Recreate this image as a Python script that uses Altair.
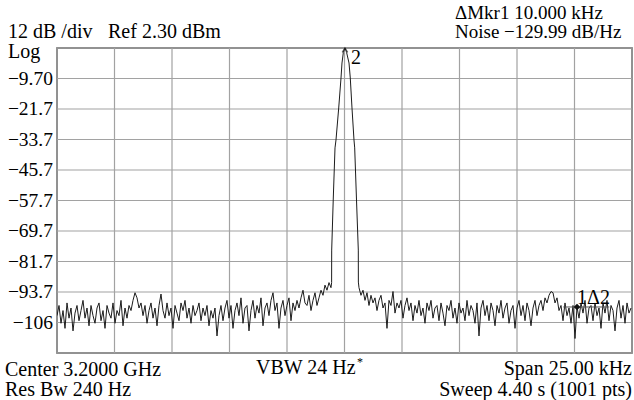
import altair as alt
import numpy as np
import pandas as pd

# ---- data ----
# noise floor left of the carrier (sweep points from -12.5 kHz to -0.59 kHz)
left_noise = [
    -103, -99, -106, -101, -108, -98, -104, -100, -109, -102,
    -99, -105, -101, -97, -104, -100, -107, -99, -103, -106,
    -100, -98, -105, -101, -108, -99, -102, -104, -98, -106,
    -101, -103, -97, -107, -100, -104, -99,
    -101, -97, -94, -96, -100, -98,
    -103, -99, -106, -101, -98, -104, -100,
    -107, -99, -94.5, -101, -104, -98, -103, -100, -108, -99,
    -102, -105, -98, -101, -97, -104, -100, -106, -99, -103,
    -101, -98, -105, -100, -103, -99, -107, -101, -104, -100,
    -111, -103, -99, -105, -100, -97, -104, -99, -108, -101,
    -98, -103, -96, -106, -100, -99, -109, -101, -97, -104,
    -99, -102, -96, -107, -100, -98, -103, -97,
    -94,
    -101, -98, -108, -100, -97, -103, -99, -96, -105, -98, -101, -97, -100,
    -96, -93, -98,
    -99, -95, -101, -97, -94, -99, -96,
    -93, -95, -91, -93, -90, -92,
]
left_start, left_end = -12.5, -0.587

# carrier response
peak_f = [-0.56, -0.557, -0.49, -0.413, -0.37, -0.252, -0.152, -0.109, -0.05, 0.02,
          0.09, 0.196, 0.252, 0.326, 0.413, 0.443, 0.522, 0.6, 0.603]
peak_db = [-90, -77.2, -57.5, -37.0, -33.9, -21.3, -9.5, -3.6, 0.6, 2.3,
           0.6, -3.6, -9.5, -21.3, -33.9, -37.0, -57.5, -77.2, -89.8]

# noise floor right of the carrier (sweep points from 0.63 kHz to 12.46 kHz)
right_noise = [
    -92, -95, -93, -97, -94, -99, -95, -98, -96, -101,
    -97, -95, -100, -98, -108, -97, -99, -93.5, -102, -98,
    -100, -97, -104, -99, -96, -101, -98, -105, -99, -102,
    -97, -103, -100, -106, -98, -101, -97, -104, -100, -99,
    -105, -98, -102, -107, -99, -101, -97, -104, -100, -106,
    -98, -102, -100, -105, -97, -103, -99, -101, -106, -98,
    -111, -100, -97, -103, -99, -105, -98, -101, -107, -99,
    -102, -97, -104, -100, -98, -106, -101, -99, -108, -100,
    -97, -103, -99, -105, -98, -101, -107, -100, -97, -103,
    -99, -97, -101, -96, -98,
    -95, -93.5, -94, -98, -96,
    -101, -99, -105, -98, -103, -100, -106, -99, -112, -99.6,
    -104, -98, -102, -97, -106, -100, -99, -105, -98, -103,
    -100, -108, -98, -102, -97, -105, -99, -101, -109, -100,
    -97, -104, -99, -106, -98, -102, -100,
]
right_start, right_end = 0.63, 12.457

marker2 = {"f": 0.02, "db": 2.3, "label": "2"}
marker1 = {"f": 10.11, "db": -99.6, "label": "1\u03942"}

ref_level = 2.3
db_per_div = 12.0
n_div = 10
span_khz = 25.0

y_labels = ["\u22129.70", "\u221221.7", "\u221233.7", "\u221245.7",
            "\u221257.7", "\u221269.7", "\u221281.7", "\u221293.7", "\u2212106"]

annot_left = [
    ("12 dB /div", -49, -10),
    ("Ref 2.30 dBm", 51, -10),
    ("Log", -49, 10),
    ("Center 3.2000 GHz", -52, 328),
    ("Res Bw 240 Hz", -52, 348),
    ("VBW 24 Hz", 199, 326),
]
annot_top_right = [
    ("\u0394Mkr1 10.000 kHz", 398, -29),
    ("Noise \u2212129.99 dB/Hz", 398, -10),
]
annot_right = [
    ("Span 25.00 kHz", 575, 327),
    ("Sweep 4.40 s (1001 pts)", 575, 348),
]

# ---- tables ----
f_all = list(np.linspace(left_start, left_end, len(left_noise))) + peak_f + \
    list(np.linspace(right_start, right_end, len(right_noise)))
db_all = left_noise + peak_db + right_noise
trace = pd.DataFrame({"f": f_all, "db": db_all, "i": range(len(f_all))})

y_bottom = ref_level - db_per_div * n_div
y_grid = [ref_level - db_per_div * k for k in range(n_div + 1)]
ylab = pd.DataFrame({"v": y_grid[1:1 + len(y_labels)], "t": y_labels})
x_ticks = [-span_khz / 2 + span_khz / n_div * k for k in range(n_div + 1)]

FONT = "Liberation Serif"

xs = alt.Scale(domain=[-span_khz / 2, span_khz / 2], nice=False, zero=False)
ys = alt.Scale(domain=[y_bottom, ref_level], nice=False, zero=False)

grid_y = alt.Chart(pd.DataFrame({"g": y_grid})).mark_rule(color="#a2a2a2", strokeWidth=1.2).encode(
    y=alt.Y("g:Q", scale=ys, axis=None))
grid_x = alt.Chart(pd.DataFrame({"g": x_ticks})).mark_rule(color="#a2a2a2", strokeWidth=1.2).encode(
    x=alt.X("g:Q", scale=xs, axis=None))
y_text = alt.Chart(ylab).mark_text(font=FONT, fontSize=19.5, align="right", baseline="middle",
                                   color="black").encode(
    y=alt.Y("v:Q", scale=ys, axis=None), x=alt.value(-4), text="t:N")

line = alt.Chart(trace).mark_line(color="#1c1c1c", strokeWidth=1, clip=True).encode(
    x=alt.X("f:Q", scale=xs, axis=None),
    y=alt.Y("db:Q", scale=ys, axis=None),
    order="i:Q",
)

mk2 = pd.DataFrame([marker2])
mk1 = pd.DataFrame([marker1])

caret = alt.Chart(mk2).mark_point(
    shape="M-1,1.6L0,0L1,1.6", size=30, filled=False, color="#1c1c1c", strokeWidth=1.2
).encode(x=alt.X("f:Q", scale=xs, axis=None), y=alt.Y("db:Q", scale=ys, axis=None))
caret_txt = alt.Chart(mk2).mark_text(
    font=FONT, fontSize=20, align="left", baseline="alphabetic", dx=6, dy=16, color="black"
).encode(x=alt.X("f:Q", scale=xs, axis=None), y=alt.Y("db:Q", scale=ys, axis=None), text="label:N")

dot = alt.Chart(mk1).mark_point(shape="diamond", size=45, filled=True, color="#111", opacity=1
                                ).encode(x=alt.X("f:Q", scale=xs, axis=None),
                                         y=alt.Y("db:Q", scale=ys, axis=None))
dot_rule = alt.Chart(mk1).transform_calculate(a="datum.f - 0.6", b="datum.f + 1.4").mark_rule(
    color="#555", strokeWidth=1).encode(x=alt.X("a:Q", scale=xs, axis=None), x2="b:Q",
                                        y=alt.Y("db:Q", scale=ys, axis=None))
dot_txt = alt.Chart(mk1).mark_text(
    font=FONT, fontSize=20, align="left", baseline="alphabetic", dx=0, dy=-3, color="black"
).encode(x=alt.X("f:Q", scale=xs, axis=None), y=alt.Y("db:Q", scale=ys, axis=None), text="label:N")

al = pd.DataFrame(annot_left, columns=["t", "px", "py"])
atr = pd.DataFrame(annot_top_right, columns=["t", "px", "py"])
ar = pd.DataFrame(annot_right, columns=["t", "px", "py"])
txt_l = alt.Chart(al).mark_text(font=FONT, fontSize=20, align="left", baseline="alphabetic",
                                color="black").encode(
    x=alt.X("px:Q", scale=None), y=alt.Y("py:Q", scale=None), text="t:N")
txt_tr = alt.Chart(atr).mark_text(font=FONT, fontSize=19, align="left", baseline="alphabetic",
                                  color="black").encode(
    x=alt.X("px:Q", scale=None), y=alt.Y("py:Q", scale=None), text="t:N")
txt_r = alt.Chart(ar).mark_text(font=FONT, fontSize=20, align="right", baseline="alphabetic",
                                color="black").encode(
    x=alt.X("px:Q", scale=None), y=alt.Y("py:Q", scale=None), text="t:N")
star = alt.Chart(pd.DataFrame({"t": ["*"], "px": [300], "py": [318]})).mark_text(
    font=FONT, fontSize=12, align="left", baseline="alphabetic", color="black").encode(
    x=alt.X("px:Q", scale=None), y=alt.Y("py:Q", scale=None), text="t:N")

chart = alt.layer(grid_y, grid_x, y_text, line, caret, caret_txt, dot_rule, dot, dot_txt,
                  txt_l, txt_tr, txt_r, star).properties(
    width=575, height=305,
    autosize=alt.AutoSizeParams(type="none"),
    padding={"left": 57, "top": 48, "right": 2, "bottom": 47},
    background="white",
).configure_view(stroke="#5a5a5a", strokeWidth=1.6)

chart.save("out.html", embed_options={"renderer": "svg", "actions": False})
